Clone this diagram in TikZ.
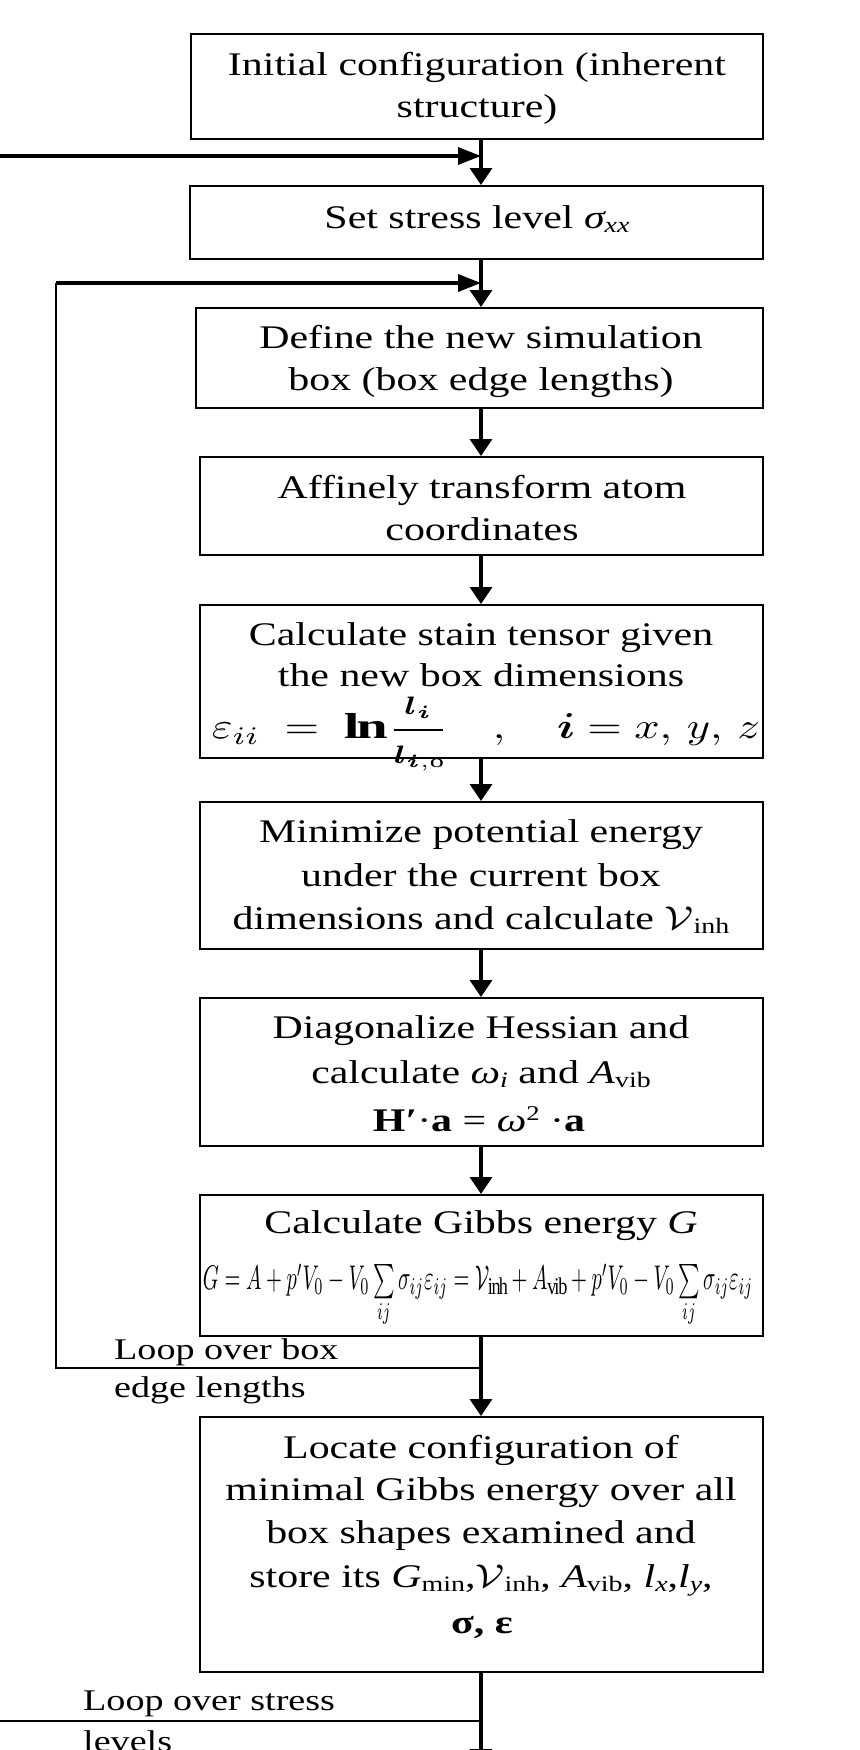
\documentclass[tikz,border=0pt]{standalone}
\usepackage{amsmath}
\usepackage{graphicx}
\usepackage{fontspec}
\setmainfont{Liberation Serif}[FakeStretch=1.27]
\usetikzlibrary{arrows.meta}
\newcommand\lsub[1]{\raisebox{-4pt}{\fontsize{22}{22}\selectfont #1}}
\newcommand\usup[1]{\raisebox{11pt}{\fontsize{21}{21}\selectfont #1}}
\newcommand\calV{\scalebox{1.27}[1]{\scalebox{3.3}{\fontsize{10}{12}\selectfont$\mathcal{V}$}}}
\begin{document}
\begin{tikzpicture}[x=1pt,y=-1pt,
  box/.style={draw, line width=2pt, inner sep=0pt},
  txt/.style={anchor=base, inner sep=0pt, font=\fontsize{33}{40}\selectfont},
  lbl/.style={anchor=base west, inner sep=0pt, font=\fontsize{30}{36}\selectfont},
  conn/.style={line width=3.5pt, -{Triangle[length=17pt,width=22pt]}},
  hconn/.style={line width=3.5pt, -{Triangle[length=23pt,width=17pt]}},
  ret/.style={line width=2.2pt},
]
\useasboundingbox (0,0) rectangle (859,1750);
\coordinate (col) at (481,0);

% boxes
\node[box, minimum width=572pt, minimum height=105pt] (b1) at (477,86.5) {};
\node[box, minimum width=573pt, minimum height=73pt]  (b2) at (476.5,222.5) {};
\node[box, minimum width=567pt, minimum height=100pt] (b3) at (479.5,358) {};
\node[box, minimum width=563pt, minimum height=98pt]  (b4) at (481.5,506) {};
\node[box, minimum width=563pt, minimum height=153pt] (b5) at (481.5,681.5) {};
\node[box, minimum width=563pt, minimum height=147pt] (b6) at (481.5,875.5) {};
\node[box, minimum width=563pt, minimum height=148pt] (b7) at (481.5,1072) {};
\node[box, minimum width=563pt, minimum height=141pt] (b8) at (481.5,1265.5) {};
\node[box, minimum width=563pt, minimum height=255pt] (b9) at (481.5,1544.5) {};

% texts
\node[txt] (t1a) at (477,76) {Initial configuration (inherent};
\node[txt] (t1b) at (477,118) {structure)};
\node[txt] (t2) at (477,228) {Set stress level {\itshape σ}\lsub{\itshape xx}};
\node[txt] (t3a) at (481,348) {Define the new simulation};
\node[txt] (t3b) at (481,390) {box (box edge lengths)};
\node[txt] (t4a) at (482,498) {Affinely transform atom};
\node[txt] (t4b) at (482,540) {coordinates};
\node[txt] (t5a) at (481,645) {Calculate stain tensor given};
\node[txt] (t5b) at (481,686) {the new box dimensions};
\node[inner sep=0pt, anchor=center] (f5) at (486,734)
  {\resizebox*{548pt}{74pt}{$\varepsilon_{ii} \;=\; \mathbf{ln}\,\dfrac{\scriptstyle\boldsymbol{l}_{\boldsymbol{i}}}{\scriptstyle\boldsymbol{l}_{\boldsymbol{i},\mathrm{o}}}\quad,\quad \boldsymbol{i} = x,\,y,\,z$}};
\node[txt] (t6a) at (481,842) {Minimize potential energy};
\node[txt] (t6b) at (481,886) {under the current box};
\node[txt] (t6c) at (481,929) {dimensions and calculate \calV\lsub{inh}};
\node[txt] (t7a) at (481,1038) {Diagonalize Hessian and};
\node[txt] (t7b) at (481,1083) {calculate {\itshape ω}\lsub{\itshape i} and {\itshape A}\lsub{vib}};
\node[txt] (t7c) at (479,1131) {\textbf{H′}·\textbf{a} = {\itshape ω}\usup{2} ·\textbf{a}};
\node[txt] (t8) at (481,1233) {Calculate Gibbs energy {\itshape G}};
\node[inner sep=0pt, anchor=center] (f8) at (478,1296)
  {\resizebox*{550pt}{64pt}{$G = A + p'V_0 - V_0\sum\limits_{ij}\sigma_{ij}\varepsilon_{ij} = \mathcal{V}_{\mathrm{inh}} + A_{\mathrm{vib}} + p'V_0 - V_0\sum\limits_{ij}\sigma_{ij}\varepsilon_{ij}$}};
\node[txt] (t9a) at (481,1458) {Locate configuration of};
\node[txt] (t9b) at (481,1500) {minimal Gibbs energy over all};
\node[txt] (t9c) at (481,1543) {box shapes examined and};
\node[txt] (t9d) at (481,1587) {store its {\itshape G}\lsub{min},\calV\lsub{inh}, {\itshape A}\lsub{vib}, {\itshape l}\lsub{\itshape x},{\itshape l}\lsub{\itshape y},};
\node[txt] (t9e) at (482,1633) {\textbf{σ, ε}};

% labels
\node[lbl] (l1a) at (114,1359) {Loop over box};
\node[lbl] (l1b) at (114,1397) {edge lengths};
\node[lbl] (l2a) at (83,1710) {Loop over stress};
\node[lbl] (l2b) at (83,1751) {levels};

% connectors
\coordinate (in0) at (0,156);
\coordinate (in1) at (56,283);
\coordinate (j1) at (481,1368);
\coordinate (lx) at (56,0);
\coordinate (j2) at (481,1721);
\coordinate (out0) at (0,1721);
\coordinate (fin) at (481,1766);

\draw[conn] (b1.south -| col) -- (b2.north -| col);
\draw[hconn] (in0) -- (in0 -| col);
\draw[conn] (b2.south -| col) -- (b3.north -| col);
\draw[ret] (j1) -- (j1 -| lx) -- (in1);
\draw[hconn] (in1) -- (in1 -| col);
\draw[conn] (b3.south -| col) -- (b4.north -| col);
\draw[conn] (b4.south -| col) -- (b5.north -| col);
\draw[conn] (b5.south -| col) -- (b6.north -| col);
\draw[conn] (b6.south -| col) -- (b7.north -| col);
\draw[conn] (b7.south -| col) -- (b8.north -| col);
\draw[conn] (b8.south -| col) -- (b9.north -| col);
\draw[conn] (b9.south -| col) -- (fin);
\draw[ret] (j2) -- (out0);
\end{tikzpicture}
\end{document}
